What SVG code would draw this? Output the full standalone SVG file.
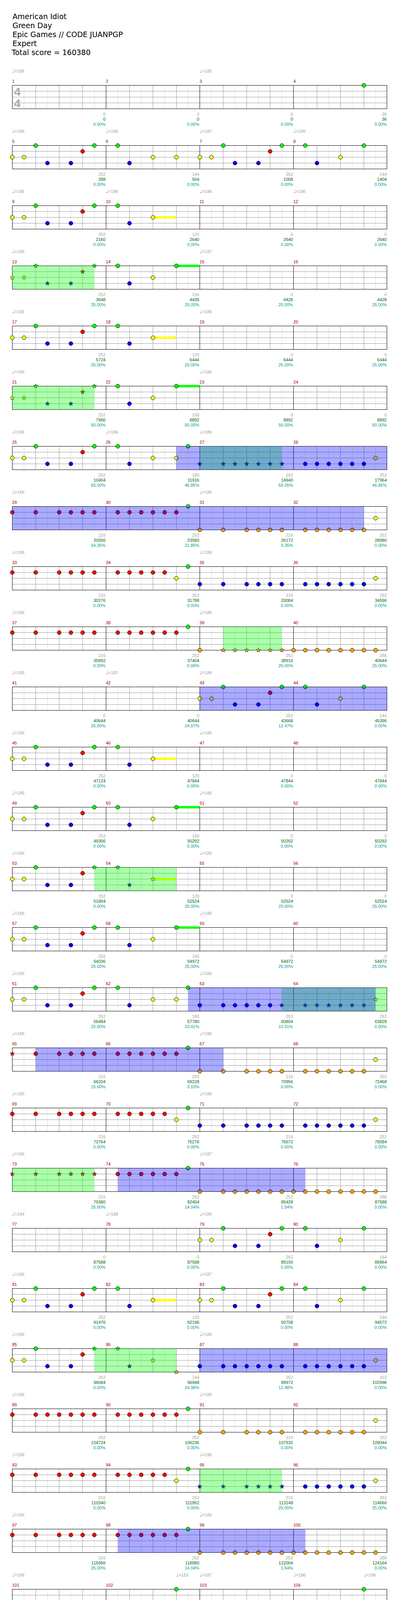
<svg xmlns="http://www.w3.org/2000/svg" xmlns:xlink="http://www.w3.org/1999/xlink" width="1024" height="5454" viewBox="0 0 1024 5454">
<style>
text{font-family:'Liberation Sans',Arial,'DejaVu Sans',sans-serif;font-size:11px}
.h{font-family:'DejaVu Sans',sans-serif;font-size:19px;fill:#000}
.m{fill:#990000}
.p{fill:#a0a0a0}
.q{font-family:'DejaVu Sans',sans-serif;font-size:14px}
.a{fill:#a0a0a0;text-anchor:end}
.b{fill:#006400;text-anchor:end}
.c{fill:#009999;text-anchor:end}
.ts{font-family:'Liberation Sans',Arial,sans-serif;font-size:30px;font-weight:bold;fill:#aaaaaa}
.og{fill:#00ff00;fill-opacity:.333}
.ob{fill:#0000ff;fill-opacity:.333}
</style>
<defs>
<g id="staff">
<path d="M61.5 0V60M121.5 0V60M181.5 0V60M241.5 0V60M301.5 0V60M361.5 0V60M421.5 0V60M481.5 0V60M541.5 0V60M601.5 0V60M661.5 0V60M721.5 0V60M781.5 0V60M841.5 0V60M901.5 0V60M961.5 0V60" stroke="#dddddd" fill="none"/>
<path d="M31.5 15H990.5M31.5 30H990.5M31.5 45H990.5M91.5 0V60M151.5 0V60M211.5 0V60M331.5 0V60M391.5 0V60M451.5 0V60M571.5 0V60M631.5 0V60M691.5 0V60M811.5 0V60M871.5 0V60M931.5 0V60" stroke="#999999" fill="none"/>
<path d="M271.5 0V60M511.5 0V60M751.5 0V60" stroke="#000" fill="none"/>
<rect x="31.5" y="0" width="959" height="60" fill="none" stroke="#000"/>
</g>
<circle id="n" r="5" stroke="#000" stroke-width="1"/>
<path id="s" d="M0,-5.8L1.53,-2.1L5.52,-1.79L2.47,0.8L3.41,4.69L0,2.6L-3.41,4.69L-2.47,0.8L-5.52,-1.79L-1.53,-2.1Z" stroke="#000" stroke-width="0.8"/>
<g id="pA6"><use href="#n" x="0" y="30" fill="#ffff00"/><use href="#n" x="30" y="30" fill="#ffff00"/><use href="#n" x="60" y="0" fill="#00ff00"/><use href="#n" x="90" y="45" fill="#0000ff"/><use href="#n" x="150" y="45" fill="#0000ff"/><use href="#n" x="180" y="15" fill="#ff0000"/></g>
<g id="pA"><use href="#pA6"/><use href="#n" x="210" y="0" fill="#00ff00"/></g>
<g id="pAs"><use href="#s" x="0" y="30" fill="#ffff00"/><use href="#s" x="30" y="30" fill="#ffff00"/><use href="#s" x="60" y="0" fill="#00ff00"/><use href="#s" x="90" y="45" fill="#0000ff"/><use href="#s" x="150" y="45" fill="#0000ff"/><use href="#s" x="180" y="15" fill="#ff0000"/><use href="#s" x="210" y="0" fill="#00ff00"/></g>
<g id="pB"><use href="#n" x="30" y="0" fill="#00ff00"/><use href="#n" x="60" y="45" fill="#0000ff"/><use href="#n" x="120" y="30" fill="#ffff00"/></g>
<g id="pB1"><use href="#pB"/><use href="#n" x="180" y="30" fill="#ffff00"/></g>
<g id="pB2"><use href="#pB"/><use href="#n" x="180" y="0" fill="#00ff00"/></g>
<g id="pB3"><rect x="120" y="27" width="60" height="6" fill="#ffff00"/><use href="#pB"/></g>
<g id="pB4"><rect x="180" y="-3" width="60" height="6" fill="#00ff00"/><use href="#pB"/><use href="#n" x="180" y="0" fill="#00ff00"/></g>
<g id="r0245"><use href="#n"/><use href="#n" x="60"/><use href="#n" x="120"/><use href="#n" x="150"/><use href="#n" x="180"/><use href="#n" x="210"/></g>
<g id="r16"><use href="#n" x="30"/><use href="#n" x="60"/><use href="#n" x="90"/><use href="#n" x="120"/><use href="#n" x="150"/><use href="#n" x="180"/></g>
<g id="r15"><use href="#n" x="30"/><use href="#n" x="60"/><use href="#n" x="90"/><use href="#n" x="120"/><use href="#n" x="150"/></g>
<g id="r0234567"><use href="#n"/><use href="#n" x="60"/><use href="#n" x="90"/><use href="#n" x="120"/><use href="#n" x="150"/><use href="#n" x="180"/><use href="#n" x="210"/></g>
<g id="r07"><use href="#n"/><use href="#n" x="30"/><use href="#n" x="60"/><use href="#n" x="90"/><use href="#n" x="120"/><use href="#n" x="150"/><use href="#n" x="180"/><use href="#n" x="210"/></g>
<g id="s0245"><use href="#s"/><use href="#s" x="60"/><use href="#s" x="120"/><use href="#s" x="150"/><use href="#s" x="180"/><use href="#s" x="210"/></g>
<g id="s16"><use href="#s" x="30"/><use href="#s" x="60"/><use href="#s" x="90"/><use href="#s" x="120"/><use href="#s" x="150"/><use href="#s" x="180"/></g>
<g id="s234567"><use href="#s" x="60"/><use href="#s" x="90"/><use href="#s" x="120"/><use href="#s" x="150"/><use href="#s" x="180"/><use href="#s" x="210"/></g>
<g id="s0234567"><use href="#s"/><use href="#s" x="60"/><use href="#s" x="90"/><use href="#s" x="120"/><use href="#s" x="150"/><use href="#s" x="180"/><use href="#s" x="210"/></g>
</defs>
<rect width="1024" height="5454" fill="#ffffff"/>
<g id="header">
<text class="h" x="32" y="49">American Idiot</text>
<text class="h" x="32" y="72">Green Day</text>
<text class="h" x="32" y="95">Epic Games // CODE JUANPGP</text>
<text class="h" x="32" y="118">Expert</text>
<text class="h" x="30" y="141">Total score = 160380</text>
</g>

<g id="row1" transform="translate(0,218.5)">
<use href="#staff"/>
<text class="ts" x="36" y="26.5">4</text><text class="ts" x="36" y="56.5">4</text>
<use href="#n" x="931.5" y="0" fill="#00ff00"/>
<text class="p" x="31" y="-33"><tspan class="q">♩</tspan>=185</text><text class="p" x="511" y="-33"><tspan class="q">♩</tspan>=185</text>
<text class="m" x="31" y="-7">1</text><text class="m" x="271" y="-7">2</text><text class="m" x="511" y="-7">3</text><text class="m" x="751" y="-7">4</text>
<text class="a" x="270" y="77">0</text><text class="b" x="270" y="90">0</text><text class="c" x="270" y="103">0.00%</text>
<text class="a" x="510" y="77">0</text><text class="b" x="510" y="90">0</text><text class="c" x="510" y="103">0.00%</text>
<text class="a" x="750" y="77">0</text><text class="b" x="750" y="90">0</text><text class="c" x="750" y="103">0.00%</text>
<text class="a" x="990" y="77">36</text><text class="b" x="990" y="90">36</text><text class="c" x="990" y="103">0.00%</text>
</g>

<g id="row2" transform="translate(0,372.5)">
<use href="#staff"/>
<use href="#pA" x="31.5"/><use href="#pB1" x="271.5"/><use href="#pA" x="511.5"/><use href="#pB2" x="751.5"/>
<text class="p" x="31" y="-33"><tspan class="q">♩</tspan>=186</text><text class="p" x="271" y="-33"><tspan class="q">♩</tspan>=186</text><text class="p" x="511" y="-33"><tspan class="q">♩</tspan>=187</text><text class="p" x="751" y="-33"><tspan class="q">♩</tspan>=185</text>
<text class="m" x="31" y="-7">5</text><text class="m" x="271" y="-7">6</text><text class="m" x="511" y="-7">7</text><text class="m" x="751" y="-7">8</text>
<text class="a" x="270" y="77">252</text><text class="b" x="270" y="90">288</text><text class="c" x="270" y="103">0.00%</text>
<text class="a" x="510" y="77">144</text><text class="b" x="510" y="90">504</text><text class="c" x="510" y="103">0.00%</text>
<text class="a" x="750" y="77">252</text><text class="b" x="750" y="90">1008</text><text class="c" x="750" y="103">0.00%</text>
<text class="a" x="990" y="77">144</text><text class="b" x="990" y="90">1404</text><text class="c" x="990" y="103">0.00%</text>
</g>

<g id="row3" transform="translate(0,526.5)">
<use href="#staff"/>
<use href="#pA" x="31.5"/><use href="#pB3" x="271.5"/>
<text class="p" x="31" y="-33"><tspan class="q">♩</tspan>=186</text><text class="p" x="271" y="-33"><tspan class="q">♩</tspan>=186</text><text class="p" x="511" y="-33"><tspan class="q">♩</tspan>=186</text><text class="p" x="751" y="-33"><tspan class="q">♩</tspan>=186</text>
<text class="m" x="31" y="-7">9</text><text class="m" x="271" y="-7">10</text><text class="m" x="511" y="-7">11</text><text class="m" x="751" y="-7">12</text>
<text class="a" x="270" y="77">252</text><text class="b" x="270" y="90">2160</text><text class="c" x="270" y="103">0.00%</text>
<text class="a" x="510" y="77">120</text><text class="b" x="510" y="90">2640</text><text class="c" x="510" y="103">0.00%</text>
<text class="a" x="750" y="77">0</text><text class="b" x="750" y="90">2640</text><text class="c" x="750" y="103">0.00%</text>
<text class="a" x="990" y="77">0</text><text class="b" x="990" y="90">2640</text><text class="c" x="990" y="103">0.00%</text>
</g>

<g id="row4" transform="translate(0,680.5)">
<use href="#staff"/>
<use href="#pAs" x="31.5"/><use href="#pB4" x="271.5"/>
<rect class="og" x="31.5" y="0" width="210" height="60"/>
<text class="p" x="31" y="-33"><tspan class="q">♩</tspan>=186</text><text class="p" x="511" y="-33"><tspan class="q">♩</tspan>=187</text>
<text class="m" x="31" y="-7">13</text><text class="m" x="271" y="-7">14</text><text class="m" x="511" y="-7">15</text><text class="m" x="751" y="-7">16</text>
<text class="a" x="270" y="77">252</text><text class="b" x="270" y="90">3648</text><text class="c" x="270" y="103">25.00%</text>
<text class="a" x="510" y="77">156</text><text class="b" x="510" y="90">4428</text><text class="c" x="510" y="103">25.00%</text>
<text class="a" x="750" y="77">0</text><text class="b" x="750" y="90">4428</text><text class="c" x="750" y="103">25.00%</text>
<text class="a" x="990" y="77">0</text><text class="b" x="990" y="90">4428</text><text class="c" x="990" y="103">25.00%</text>
</g>

<g id="row5" transform="translate(0,834.5)">
<use href="#staff"/>
<use href="#pA" x="31.5"/><use href="#pB3" x="271.5"/>
<text class="p" x="31" y="-33"><tspan class="q">♩</tspan>=185</text><text class="p" x="511" y="-33"><tspan class="q">♩</tspan>=186</text>
<text class="m" x="31" y="-7">17</text><text class="m" x="271" y="-7">18</text><text class="m" x="511" y="-7">19</text><text class="m" x="751" y="-7">20</text>
<text class="a" x="270" y="77">252</text><text class="b" x="270" y="90">5724</text><text class="c" x="270" y="103">25.00%</text>
<text class="a" x="510" y="77">120</text><text class="b" x="510" y="90">6444</text><text class="c" x="510" y="103">25.00%</text>
<text class="a" x="750" y="77">0</text><text class="b" x="750" y="90">6444</text><text class="c" x="750" y="103">25.00%</text>
<text class="a" x="990" y="77">0</text><text class="b" x="990" y="90">6444</text><text class="c" x="990" y="103">25.00%</text>
</g>

<g id="row6" transform="translate(0,988.5)">
<use href="#staff"/>
<use href="#pAs" x="31.5"/><use href="#pB4" x="271.5"/>
<rect class="og" x="31.5" y="0" width="210" height="60"/>
<text class="p" x="31" y="-33"><tspan class="q">♩</tspan>=186</text><text class="p" x="511" y="-33"><tspan class="q">♩</tspan>=186</text>
<text class="m" x="31" y="-7">21</text><text class="m" x="271" y="-7">22</text><text class="m" x="511" y="-7">23</text><text class="m" x="751" y="-7">24</text>
<text class="a" x="270" y="77">252</text><text class="b" x="270" y="90">7956</text><text class="c" x="270" y="103">50.00%</text>
<text class="a" x="510" y="77">156</text><text class="b" x="510" y="90">8892</text><text class="c" x="510" y="103">50.00%</text>
<text class="a" x="750" y="77">0</text><text class="b" x="750" y="90">8892</text><text class="c" x="750" y="103">50.00%</text>
<text class="a" x="990" y="77">0</text><text class="b" x="990" y="90">8892</text><text class="c" x="990" y="103">50.00%</text>
</g>

<g id="row7" transform="translate(0,1142.5)">
<use href="#staff"/>
<use href="#pA" x="31.5"/><use href="#pB1" x="271.5"/><use href="#n" x="481.5" y="0" fill="#00ff00"/>
<use href="#s0234567" x="511.5" y="45" fill="#0000ff"/>
<use href="#r16" x="751.5" y="45" fill="#0000ff"/><use href="#n" x="961.5" y="30" fill="#ffff00"/>
<rect class="og" x="511.5" y="0" width="210" height="60"/>
<rect class="ob" x="451.5" y="0" width="539" height="60"/>
<text class="p" x="31" y="-33"><tspan class="q">♩</tspan>=186</text><text class="p" x="271" y="-33"><tspan class="q">♩</tspan>=186</text><text class="p" x="511" y="-33"><tspan class="q">♩</tspan>=186</text>
<text class="m" x="31" y="-7">25</text><text class="m" x="271" y="-7">26</text><text class="m" x="511" y="-7">27</text><text class="m" x="751" y="-7">28</text>
<text class="a" x="270" y="77">252</text><text class="b" x="270" y="90">10404</text><text class="c" x="270" y="103">50.00%</text>
<text class="a" x="510" y="77">180</text><text class="b" x="510" y="90">11916</text><text class="c" x="510" y="103">46.85%</text>
<text class="a" x="750" y="77">252</text><text class="b" x="750" y="90">14940</text><text class="c" x="750" y="103">59.35%</text>
<text class="a" x="990" y="77">252</text><text class="b" x="990" y="90">17964</text><text class="c" x="990" y="103">46.85%</text>
</g>

<g id="row8" transform="translate(0,1296.5)">
<use href="#staff"/>
<use href="#r0245" x="31.5" y="15" fill="#ff0000"/><use href="#r16" x="271.5" y="15" fill="#ff0000"/><use href="#n" x="481.5" y="0" fill="#00ff00"/>
<use href="#r0245" x="511.5" y="60" fill="#ffa500"/><use href="#r16" x="751.5" y="60" fill="#ffa500"/><use href="#n" x="961.5" y="30" fill="#ffff00"/>
<rect class="ob" x="31.5" y="0" width="900" height="60"/>
<text class="p" x="31" y="-33"><tspan class="q">♩</tspan>=186</text><text class="p" x="511" y="-33"><tspan class="q">♩</tspan>=186</text>
<text class="m" x="31" y="-7">29</text><text class="m" x="271" y="-7">30</text><text class="m" x="511" y="-7">31</text><text class="m" x="751" y="-7">32</text>
<text class="a" x="270" y="77">216</text><text class="b" x="270" y="90">20556</text><text class="c" x="270" y="103">34.35%</text>
<text class="a" x="510" y="77">252</text><text class="b" x="510" y="90">23580</text><text class="c" x="510" y="103">21.85%</text>
<text class="a" x="750" y="77">216</text><text class="b" x="750" y="90">26172</text><text class="c" x="750" y="103">9.35%</text>
<text class="a" x="990" y="77">252</text><text class="b" x="990" y="90">28980</text><text class="c" x="990" y="103">0.00%</text>
</g>

<g id="row9" transform="translate(0,1450.5)">
<use href="#staff"/>
<use href="#r0245" x="31.5" y="15" fill="#ff0000"/><use href="#r15" x="271.5" y="15" fill="#ff0000"/><use href="#n" x="451.5" y="30" fill="#ffff00"/><use href="#n" x="481.5" y="0" fill="#00ff00"/>
<use href="#r0245" x="511.5" y="45" fill="#0000ff"/><use href="#r16" x="751.5" y="45" fill="#0000ff"/><use href="#n" x="961.5" y="30" fill="#ffff00"/>
<text class="p" x="31" y="-33"><tspan class="q">♩</tspan>=186</text><text class="p" x="511" y="-33"><tspan class="q">♩</tspan>=186</text>
<text class="m" x="31" y="-7">33</text><text class="m" x="271" y="-7">34</text><text class="m" x="511" y="-7">35</text><text class="m" x="751" y="-7">36</text>
<text class="a" x="270" y="77">216</text><text class="b" x="270" y="90">30276</text><text class="c" x="270" y="103">0.00%</text>
<text class="a" x="510" y="77">252</text><text class="b" x="510" y="90">31788</text><text class="c" x="510" y="103">0.00%</text>
<text class="a" x="750" y="77">216</text><text class="b" x="750" y="90">33084</text><text class="c" x="750" y="103">0.00%</text>
<text class="a" x="990" y="77">252</text><text class="b" x="990" y="90">34596</text><text class="c" x="990" y="103">0.00%</text>
</g>

<g id="row10" transform="translate(0,1604.5)">
<use href="#staff"/>
<use href="#r0245" x="31.5" y="15" fill="#ff0000"/><use href="#r16" x="271.5" y="15" fill="#ff0000"/><use href="#n" x="481.5" y="0" fill="#00ff00"/>
<use href="#n" x="511.5" y="60" fill="#ffa500"/><use href="#s234567" x="511.5" y="60" fill="#ffa500"/><use href="#r07" x="751.5" y="60" fill="#ffa500"/>
<rect class="og" x="571.5" y="0" width="150" height="60"/>
<text class="p" x="31" y="-33"><tspan class="q">♩</tspan>=186</text><text class="p" x="511" y="-33"><tspan class="q">♩</tspan>=186</text>
<text class="m" x="31" y="-7">37</text><text class="m" x="271" y="-7">38</text><text class="m" x="511" y="-7">39</text><text class="m" x="751" y="-7">40</text>
<text class="a" x="270" y="77">216</text><text class="b" x="270" y="90">35892</text><text class="c" x="270" y="103">0.00%</text>
<text class="a" x="510" y="77">252</text><text class="b" x="510" y="90">37404</text><text class="c" x="510" y="103">0.00%</text>
<text class="a" x="750" y="77">252</text><text class="b" x="750" y="90">38916</text><text class="c" x="750" y="103">25.00%</text>
<text class="a" x="990" y="77">288</text><text class="b" x="990" y="90">40644</text><text class="c" x="990" y="103">25.00%</text>
</g>

<g id="row11" transform="translate(0,1758.5)">
<use href="#staff"/>
<use href="#pA" x="511.5"/><use href="#pB2" x="751.5"/>
<rect class="ob" x="511.5" y="0" width="479" height="60"/>
<text class="p" x="31" y="-33"><tspan class="q">♩</tspan>=185</text><text class="p" x="271" y="-33"><tspan class="q">♩</tspan>=187</text><text class="p" x="511" y="-33"><tspan class="q">♩</tspan>=186</text>
<text class="m" x="31" y="-7">41</text><text class="m" x="271" y="-7">42</text><text class="m" x="511" y="-7">43</text><text class="m" x="751" y="-7">44</text>
<text class="a" x="270" y="77">0</text><text class="b" x="270" y="90">40644</text><text class="c" x="270" y="103">25.00%</text>
<text class="a" x="510" y="77">0</text><text class="b" x="510" y="90">40644</text><text class="c" x="510" y="103">24.97%</text>
<text class="a" x="750" y="77">252</text><text class="b" x="750" y="90">43668</text><text class="c" x="750" y="103">12.47%</text>
<text class="a" x="990" y="77">144</text><text class="b" x="990" y="90">45396</text><text class="c" x="990" y="103">0.00%</text>
</g>

<g id="row12" transform="translate(0,1912.5)">
<use href="#staff"/>
<use href="#pA" x="31.5"/><use href="#pB3" x="271.5"/>
<text class="p" x="31" y="-33"><tspan class="q">♩</tspan>=186</text><text class="p" x="511" y="-33"><tspan class="q">♩</tspan>=186</text>
<text class="m" x="31" y="-7">45</text><text class="m" x="271" y="-7">46</text><text class="m" x="511" y="-7">47</text><text class="m" x="751" y="-7">48</text>
<text class="a" x="270" y="77">252</text><text class="b" x="270" y="90">47124</text><text class="c" x="270" y="103">0.00%</text>
<text class="a" x="510" y="77">120</text><text class="b" x="510" y="90">47844</text><text class="c" x="510" y="103">0.00%</text>
<text class="a" x="750" y="77">0</text><text class="b" x="750" y="90">47844</text><text class="c" x="750" y="103">0.00%</text>
<text class="a" x="990" y="77">0</text><text class="b" x="990" y="90">47844</text><text class="c" x="990" y="103">0.00%</text>
</g>

<g id="row13" transform="translate(0,2066.5)">
<use href="#staff"/>
<use href="#pA" x="31.5"/><use href="#pB4" x="271.5"/>
<text class="p" x="31" y="-33"><tspan class="q">♩</tspan>=186</text><text class="p" x="511" y="-33"><tspan class="q">♩</tspan>=186</text>
<text class="m" x="31" y="-7">49</text><text class="m" x="271" y="-7">50</text><text class="m" x="511" y="-7">51</text><text class="m" x="751" y="-7">52</text>
<text class="a" x="270" y="77">252</text><text class="b" x="270" y="90">49356</text><text class="c" x="270" y="103">0.00%</text>
<text class="a" x="510" y="77">156</text><text class="b" x="510" y="90">50292</text><text class="c" x="510" y="103">0.00%</text>
<text class="a" x="750" y="77">0</text><text class="b" x="750" y="90">50292</text><text class="c" x="750" y="103">0.00%</text>
<text class="a" x="990" y="77">0</text><text class="b" x="990" y="90">50292</text><text class="c" x="990" y="103">0.00%</text>
</g>

<g id="row14" transform="translate(0,2220.5)">
<use href="#staff"/>
<use href="#pA6" x="31.5"/><use href="#s" x="241.5" y="0" fill="#00ff00"/>
<rect x="391.5" y="27" width="60" height="6" fill="#ffff00"/>
<use href="#s" x="301.5" y="0" fill="#00ff00"/><use href="#s" x="331.5" y="45" fill="#0000ff"/><use href="#s" x="391.5" y="30" fill="#ffff00"/>
<rect class="og" x="241.5" y="0" width="210" height="60"/>
<text class="p" x="31" y="-33"><tspan class="q">♩</tspan>=186</text><text class="p" x="511" y="-33"><tspan class="q">♩</tspan>=186</text>
<text class="m" x="31" y="-7">53</text><text class="m" x="271" y="-7">54</text><text class="m" x="511" y="-7">55</text><text class="m" x="751" y="-7">56</text>
<text class="a" x="270" y="77">252</text><text class="b" x="270" y="90">51804</text><text class="c" x="270" y="103">0.00%</text>
<text class="a" x="510" y="77">120</text><text class="b" x="510" y="90">52524</text><text class="c" x="510" y="103">25.00%</text>
<text class="a" x="750" y="77">0</text><text class="b" x="750" y="90">52524</text><text class="c" x="750" y="103">25.00%</text>
<text class="a" x="990" y="77">0</text><text class="b" x="990" y="90">52524</text><text class="c" x="990" y="103">25.00%</text>
</g>

<g id="row15" transform="translate(0,2374.5)">
<use href="#staff"/>
<use href="#pA" x="31.5"/><use href="#pB4" x="271.5"/>
<text class="p" x="31" y="-33"><tspan class="q">♩</tspan>=186</text><text class="p" x="511" y="-33"><tspan class="q">♩</tspan>=186</text>
<text class="m" x="31" y="-7">57</text><text class="m" x="271" y="-7">58</text><text class="m" x="511" y="-7">59</text><text class="m" x="751" y="-7">60</text>
<text class="a" x="270" y="77">252</text><text class="b" x="270" y="90">54036</text><text class="c" x="270" y="103">25.00%</text>
<text class="a" x="510" y="77">156</text><text class="b" x="510" y="90">54972</text><text class="c" x="510" y="103">25.00%</text>
<text class="a" x="750" y="77">0</text><text class="b" x="750" y="90">54972</text><text class="c" x="750" y="103">25.00%</text>
<text class="a" x="990" y="77">0</text><text class="b" x="990" y="90">54972</text><text class="c" x="990" y="103">25.00%</text>
</g>

<g id="row16" transform="translate(0,2528.5)">
<use href="#staff"/>
<use href="#pA" x="31.5"/><use href="#pB1" x="271.5"/><use href="#n" x="481.5" y="0" fill="#00ff00"/>
<g fill="#0000ff"><use href="#n" x="511.5" y="45"/><use href="#n" x="571.5" y="45"/><use href="#n" x="601.5" y="45"/><use href="#n" x="631.5" y="45"/><use href="#n" x="661.5" y="45"/><use href="#n" x="691.5" y="45"/><use href="#s" x="721.5" y="45"/><use href="#s16" x="751.5" y="45"/></g>
<use href="#s" x="961.5" y="30" fill="#ffff00"/>
<rect class="og" x="721.5" y="0" width="269" height="60"/>
<rect class="ob" x="481.5" y="0" width="480" height="60"/>
<text class="p" x="31" y="-33"><tspan class="q">♩</tspan>=186</text><text class="p" x="511" y="-33"><tspan class="q">♩</tspan>=186</text>
<text class="m" x="31" y="-7">61</text><text class="m" x="271" y="-7">62</text><text class="m" x="511" y="-7">63</text><text class="m" x="751" y="-7">64</text>
<text class="a" x="270" y="77">252</text><text class="b" x="270" y="90">56484</text><text class="c" x="270" y="103">25.00%</text>
<text class="a" x="510" y="77">180</text><text class="b" x="510" y="90">57780</text><text class="c" x="510" y="103">23.41%</text>
<text class="a" x="750" y="77">252</text><text class="b" x="750" y="90">60804</text><text class="c" x="750" y="103">10.91%</text>
<text class="a" x="990" y="77">252</text><text class="b" x="990" y="90">63828</text><text class="c" x="990" y="103">0.00%</text>
</g>

<g id="row17" transform="translate(0,2682.5)">
<use href="#staff"/>
<g fill="#ff0000"><use href="#s" x="31.5" y="15"/><use href="#n" x="91.5" y="15"/><use href="#n" x="151.5" y="15"/><use href="#n" x="181.5" y="15"/><use href="#n" x="211.5" y="15"/><use href="#n" x="241.5" y="15"/><use href="#r16" x="271.5" y="15"/></g>
<use href="#n" x="481.5" y="0" fill="#00ff00"/>
<use href="#r0245" x="511.5" y="60" fill="#ffa500"/><use href="#r16" x="751.5" y="60" fill="#ffa500"/><use href="#n" x="961.5" y="30" fill="#ffff00"/>
<rect class="ob" x="91.5" y="0" width="480" height="60"/>
<text class="p" x="31" y="-33"><tspan class="q">♩</tspan>=186</text><text class="p" x="511" y="-33"><tspan class="q">♩</tspan>=186</text>
<text class="m" x="31" y="-7">65</text><text class="m" x="271" y="-7">66</text><text class="m" x="511" y="-7">67</text><text class="m" x="751" y="-7">68</text>
<text class="a" x="270" y="77">216</text><text class="b" x="270" y="90">66204</text><text class="c" x="270" y="103">15.60%</text>
<text class="a" x="510" y="77">252</text><text class="b" x="510" y="90">69228</text><text class="c" x="510" y="103">3.10%</text>
<text class="a" x="750" y="77">216</text><text class="b" x="750" y="90">70956</text><text class="c" x="750" y="103">0.00%</text>
<text class="a" x="990" y="77">252</text><text class="b" x="990" y="90">72468</text><text class="c" x="990" y="103">0.00%</text>
</g>

<g id="row18" transform="translate(0,2836.5)">
<use href="#staff"/>
<use href="#r0245" x="31.5" y="15" fill="#ff0000"/><use href="#r15" x="271.5" y="15" fill="#ff0000"/><use href="#n" x="451.5" y="30" fill="#ffff00"/><use href="#n" x="481.5" y="0" fill="#00ff00"/>
<use href="#r0245" x="511.5" y="45" fill="#0000ff"/><use href="#r16" x="751.5" y="45" fill="#0000ff"/><use href="#n" x="961.5" y="30" fill="#ffff00"/>
<text class="p" x="31" y="-33"><tspan class="q">♩</tspan>=186</text><text class="p" x="511" y="-33"><tspan class="q">♩</tspan>=186</text>
<text class="m" x="31" y="-7">69</text><text class="m" x="271" y="-7">70</text><text class="m" x="511" y="-7">71</text><text class="m" x="751" y="-7">72</text>
<text class="a" x="270" y="77">216</text><text class="b" x="270" y="90">73764</text><text class="c" x="270" y="103">0.00%</text>
<text class="a" x="510" y="77">252</text><text class="b" x="510" y="90">75276</text><text class="c" x="510" y="103">0.00%</text>
<text class="a" x="750" y="77">216</text><text class="b" x="750" y="90">76572</text><text class="c" x="750" y="103">0.00%</text>
<text class="a" x="990" y="77">252</text><text class="b" x="990" y="90">78084</text><text class="c" x="990" y="103">0.00%</text>
</g>

<g id="row19" transform="translate(0,2990.5)">
<use href="#staff"/>
<use href="#s0245" x="31.5" y="15" fill="#ff0000"/><use href="#r16" x="271.5" y="15" fill="#ff0000"/><use href="#n" x="481.5" y="0" fill="#00ff00"/>
<use href="#r0234567" x="511.5" y="60" fill="#ffa500"/><use href="#r07" x="751.5" y="60" fill="#ffa500"/>
<rect class="og" x="31.5" y="0" width="210" height="60"/>
<rect class="ob" x="301.5" y="0" width="480" height="60"/>
<text class="p" x="31" y="-33"><tspan class="q">♩</tspan>=186</text><text class="p" x="511" y="-33"><tspan class="q">♩</tspan>=187</text>
<text class="m" x="31" y="-7">73</text><text class="m" x="271" y="-7">74</text><text class="m" x="511" y="-7">75</text><text class="m" x="751" y="-7">76</text>
<text class="a" x="270" y="77">216</text><text class="b" x="270" y="90">79380</text><text class="c" x="270" y="103">25.00%</text>
<text class="a" x="510" y="77">252</text><text class="b" x="510" y="90">82404</text><text class="c" x="510" y="103">14.04%</text>
<text class="a" x="750" y="77">252</text><text class="b" x="750" y="90">85428</text><text class="c" x="750" y="103">1.54%</text>
<text class="a" x="990" y="77">288</text><text class="b" x="990" y="90">87588</text><text class="c" x="990" y="103">0.00%</text>
</g>

<g id="row20" transform="translate(0,3144.5)">
<use href="#staff"/>
<use href="#pA" x="511.5"/><use href="#pB2" x="751.5"/>
<text class="p" x="31" y="-33"><tspan class="q">♩</tspan>=184</text><text class="p" x="271" y="-33"><tspan class="q">♩</tspan>=188</text><text class="p" x="511" y="-33"><tspan class="q">♩</tspan>=185</text>
<text class="m" x="31" y="-7">77</text><text class="m" x="271" y="-7">78</text><text class="m" x="511" y="-7">79</text><text class="m" x="751" y="-7">80</text>
<text class="a" x="270" y="77">0</text><text class="b" x="270" y="90">87588</text><text class="c" x="270" y="103">0.00%</text>
<text class="a" x="510" y="77">0</text><text class="b" x="510" y="90">87588</text><text class="c" x="510" y="103">0.00%</text>
<text class="a" x="750" y="77">252</text><text class="b" x="750" y="90">89100</text><text class="c" x="750" y="103">0.00%</text>
<text class="a" x="990" y="77">144</text><text class="b" x="990" y="90">89964</text><text class="c" x="990" y="103">0.00%</text>
</g>

<g id="row21" transform="translate(0,3298.5)">
<use href="#staff"/>
<use href="#pA" x="31.5"/><use href="#pB3" x="271.5"/><use href="#pA" x="511.5"/><use href="#pB2" x="751.5"/>
<text class="p" x="31" y="-33"><tspan class="q">♩</tspan>=186</text><text class="p" x="511" y="-33"><tspan class="q">♩</tspan>=187</text>
<text class="m" x="31" y="-7">81</text><text class="m" x="271" y="-7">82</text><text class="m" x="511" y="-7">83</text><text class="m" x="751" y="-7">84</text>
<text class="a" x="270" y="77">252</text><text class="b" x="270" y="90">91476</text><text class="c" x="270" y="103">0.00%</text>
<text class="a" x="510" y="77">120</text><text class="b" x="510" y="90">92196</text><text class="c" x="510" y="103">0.00%</text>
<text class="a" x="750" y="77">252</text><text class="b" x="750" y="90">93708</text><text class="c" x="750" y="103">0.00%</text>
<text class="a" x="990" y="77">144</text><text class="b" x="990" y="90">94572</text><text class="c" x="990" y="103">0.00%</text>
</g>

<g id="row22" transform="translate(0,3452.5)">
<use href="#staff"/>
<use href="#pA6" x="31.5"/><use href="#s" x="241.5" y="0" fill="#00ff00"/>
<use href="#s" x="301.5" y="0" fill="#00ff00"/><use href="#s" x="331.5" y="45" fill="#0000ff"/><use href="#s" x="391.5" y="30" fill="#ffff00"/><use href="#s" x="451.5" y="60" fill="#ffa500"/>
<use href="#r0234567" x="511.5" y="45" fill="#0000ff"/><use href="#r16" x="751.5" y="45" fill="#0000ff"/><use href="#n" x="961.5" y="30" fill="#ffff00"/>
<rect class="og" x="241.5" y="0" width="210" height="60"/>
<rect class="ob" x="511.5" y="0" width="479" height="60"/>
<text class="p" x="31" y="-33"><tspan class="q">♩</tspan>=186</text><text class="p" x="511" y="-33"><tspan class="q">♩</tspan>=186</text>
<text class="m" x="31" y="-7">85</text><text class="m" x="271" y="-7">86</text><text class="m" x="511" y="-7">87</text><text class="m" x="751" y="-7">88</text>
<text class="a" x="270" y="77">252</text><text class="b" x="270" y="90">96084</text><text class="c" x="270" y="103">0.00%</text>
<text class="a" x="510" y="77">144</text><text class="b" x="510" y="90">96948</text><text class="c" x="510" y="103">24.98%</text>
<text class="a" x="750" y="77">252</text><text class="b" x="750" y="90">99972</text><text class="c" x="750" y="103">12.48%</text>
<text class="a" x="990" y="77">252</text><text class="b" x="990" y="90">102996</text><text class="c" x="990" y="103">0.00%</text>
</g>

<g id="row23" transform="translate(0,3606.5)">
<use href="#staff"/>
<use href="#r0234567" x="31.5" y="15" fill="#ff0000"/><use href="#r16" x="271.5" y="15" fill="#ff0000"/><use href="#n" x="481.5" y="0" fill="#00ff00"/>
<use href="#r0245" x="511.5" y="60" fill="#ffa500"/><use href="#r16" x="751.5" y="60" fill="#ffa500"/><use href="#n" x="961.5" y="30" fill="#ffff00"/>
<text class="p" x="31" y="-33"><tspan class="q">♩</tspan>=186</text><text class="p" x="511" y="-33"><tspan class="q">♩</tspan>=186</text>
<text class="m" x="31" y="-7">89</text><text class="m" x="271" y="-7">90</text><text class="m" x="511" y="-7">91</text><text class="m" x="751" y="-7">92</text>
<text class="a" x="270" y="77">252</text><text class="b" x="270" y="90">104724</text><text class="c" x="270" y="103">0.00%</text>
<text class="a" x="510" y="77">252</text><text class="b" x="510" y="90">106236</text><text class="c" x="510" y="103">0.00%</text>
<text class="a" x="750" y="77">216</text><text class="b" x="750" y="90">107532</text><text class="c" x="750" y="103">0.00%</text>
<text class="a" x="990" y="77">252</text><text class="b" x="990" y="90">109044</text><text class="c" x="990" y="103">0.00%</text>
</g>

<g id="row24" transform="translate(0,3760.5)">
<use href="#staff"/>
<use href="#r0245" x="31.5" y="15" fill="#ff0000"/><use href="#r15" x="271.5" y="15" fill="#ff0000"/><use href="#n" x="451.5" y="30" fill="#ffff00"/><use href="#n" x="481.5" y="0" fill="#00ff00"/>
<use href="#s0245" x="511.5" y="45" fill="#0000ff"/><use href="#r16" x="751.5" y="45" fill="#0000ff"/><use href="#n" x="961.5" y="30" fill="#ffff00"/>
<rect class="og" x="511.5" y="0" width="210" height="60"/>
<text class="p" x="31" y="-33"><tspan class="q">♩</tspan>=186</text><text class="p" x="511" y="-33"><tspan class="q">♩</tspan>=186</text>
<text class="m" x="31" y="-7">93</text><text class="m" x="271" y="-7">94</text><text class="m" x="511" y="-7">95</text><text class="m" x="751" y="-7">96</text>
<text class="a" x="270" y="77">216</text><text class="b" x="270" y="90">110340</text><text class="c" x="270" y="103">0.00%</text>
<text class="a" x="510" y="77">252</text><text class="b" x="510" y="90">111852</text><text class="c" x="510" y="103">0.00%</text>
<text class="a" x="750" y="77">216</text><text class="b" x="750" y="90">113148</text><text class="c" x="750" y="103">25.00%</text>
<text class="a" x="990" y="77">252</text><text class="b" x="990" y="90">114660</text><text class="c" x="990" y="103">25.00%</text>
</g>

<g id="row25" transform="translate(0,3914.5)">
<use href="#staff"/>
<use href="#r0245" x="31.5" y="15" fill="#ff0000"/><use href="#r16" x="271.5" y="15" fill="#ff0000"/><use href="#n" x="481.5" y="0" fill="#00ff00"/>
<use href="#r0234567" x="511.5" y="60" fill="#ffa500"/><use href="#r07" x="751.5" y="60" fill="#ffa500"/>
<rect class="ob" x="301.5" y="0" width="480" height="60"/>
<text class="p" x="31" y="-33"><tspan class="q">♩</tspan>=186</text><text class="p" x="511" y="-33"><tspan class="q">♩</tspan>=186</text>
<text class="m" x="31" y="-7">97</text><text class="m" x="271" y="-7">98</text><text class="m" x="511" y="-7">99</text><text class="m" x="751" y="-7">100</text>
<text class="a" x="270" y="77">216</text><text class="b" x="270" y="90">115956</text><text class="c" x="270" y="103">25.00%</text>
<text class="a" x="510" y="77">252</text><text class="b" x="510" y="90">118980</text><text class="c" x="510" y="103">14.04%</text>
<text class="a" x="750" y="77">252</text><text class="b" x="750" y="90">122004</text><text class="c" x="750" y="103">1.54%</text>
<text class="a" x="990" y="77">288</text><text class="b" x="990" y="90">124164</text><text class="c" x="990" y="103">0.00%</text>
</g>

<g id="row26" transform="translate(0,4068.5)">
<use href="#staff"/>
<use href="#n" x="451.5" y="0" fill="#00ff00"/><use href="#n" x="931.5" y="0" fill="#00ff00"/>
<text class="p" x="31" y="-33"><tspan class="q">♩</tspan>=186</text><text class="p" x="451" y="-33"><tspan class="q">♩</tspan>=183</text><text class="p" x="511" y="-33"><tspan class="q">♩</tspan>=187</text><text class="p" x="751" y="-33"><tspan class="q">♩</tspan>=186</text><text class="p" x="931" y="-33"><tspan class="q">♩</tspan>=186</text>
<text class="m" x="31" y="-7">101</text><text class="m" x="271" y="-7">102</text><text class="m" x="511" y="-7">103</text><text class="m" x="751" y="-7">104</text>
<text class="a" x="270" y="77">0</text><text class="b" x="270" y="90">124164</text><text class="c" x="270" y="103">0.00%</text>
<text class="a" x="510" y="77">36</text><text class="b" x="510" y="90">124380</text><text class="c" x="510" y="103">0.00%</text>
<text class="a" x="750" y="77">0</text><text class="b" x="750" y="90">124380</text><text class="c" x="750" y="103">0.00%</text>
<text class="a" x="990" y="77">36</text><text class="b" x="990" y="90">124596</text><text class="c" x="990" y="103">0.00%</text>
</g>

<g id="row27" transform="translate(0,4222.5)">
<use href="#staff"/>
<use href="#n" x="451.5" y="0" fill="#00ff00"/><use href="#n" x="931.5" y="0" fill="#00ff00"/>
<text class="p" x="511" y="-33"><tspan class="q">♩</tspan>=186</text>
<text class="m" x="31" y="-7">105</text><text class="m" x="271" y="-7">106</text><text class="m" x="511" y="-7">107</text><text class="m" x="751" y="-7">108</text>
<text class="a" x="270" y="77">0</text><text class="b" x="270" y="90">124596</text><text class="c" x="270" y="103">0.00%</text>
<text class="a" x="510" y="77">36</text><text class="b" x="510" y="90">124812</text><text class="c" x="510" y="103">0.00%</text>
<text class="a" x="750" y="77">0</text><text class="b" x="750" y="90">124812</text><text class="c" x="750" y="103">0.00%</text>
<text class="a" x="990" y="77">36</text><text class="b" x="990" y="90">125028</text><text class="c" x="990" y="103">0.00%</text>
</g>

<g id="row28" transform="translate(0,4376.5)">
<use href="#staff"/>
<use href="#n" x="451.5" y="0" fill="#00ff00"/><use href="#n" x="931.5" y="0" fill="#00ff00"/>
<text class="p" x="31" y="-33"><tspan class="q">♩</tspan>=186</text><text class="p" x="451" y="-33"><tspan class="q">♩</tspan>=186</text>
<text class="m" x="31" y="-7">109</text><text class="m" x="271" y="-7">110</text><text class="m" x="511" y="-7">111</text><text class="m" x="751" y="-7">112</text>
<text class="a" x="270" y="77">0</text><text class="b" x="270" y="90">125028</text><text class="c" x="270" y="103">0.00%</text>
<text class="a" x="510" y="77">36</text><text class="b" x="510" y="90">125244</text><text class="c" x="510" y="103">0.00%</text>
<text class="a" x="750" y="77">0</text><text class="b" x="750" y="90">125244</text><text class="c" x="750" y="103">0.00%</text>
<text class="a" x="990" y="77">36</text><text class="b" x="990" y="90">125460</text><text class="c" x="990" y="103">0.00%</text>
</g>

<g id="row29" transform="translate(0,4530.5)">
<use href="#staff"/>
<g fill="#0000ff"><use href="#n" x="31.5" y="45"/><use href="#s" x="91.5" y="45"/><use href="#s" x="151.5" y="45"/><use href="#s" x="181.5" y="45"/><use href="#s" x="211.5" y="45"/><use href="#s" x="241.5" y="45"/><use href="#r16" x="271.5" y="45"/></g>
<use href="#n" x="481.5" y="30" fill="#ffff00"/>
<use href="#r0245" x="511.5" y="15" fill="#ff0000"/><use href="#r16" x="751.5" y="15" fill="#ff0000"/><use href="#n" x="961.5" y="0" fill="#00ff00"/>
<rect class="og" x="91.5" y="0" width="150" height="60"/>
<text class="p" x="31" y="-33"><tspan class="q">♩</tspan>=186</text><text class="p" x="511" y="-33"><tspan class="q">♩</tspan>=186</text>
<text class="m" x="31" y="-7">113</text><text class="m" x="271" y="-7">114</text><text class="m" x="511" y="-7">115</text><text class="m" x="751" y="-7">116</text>
<text class="a" x="270" y="77">216</text><text class="b" x="270" y="90">126756</text><text class="c" x="270" y="103">25.00%</text>
<text class="a" x="510" y="77">252</text><text class="b" x="510" y="90">128268</text><text class="c" x="510" y="103">25.00%</text>
<text class="a" x="750" y="77">216</text><text class="b" x="750" y="90">129564</text><text class="c" x="750" y="103">25.00%</text>
<text class="a" x="990" y="77">252</text><text class="b" x="990" y="90">131076</text><text class="c" x="990" y="103">25.00%</text>
</g>

<g id="row30" transform="translate(0,4684.5)">
<use href="#staff"/>
<use href="#r0245" x="31.5" y="60" fill="#ffa500"/><use href="#r16" x="271.5" y="60" fill="#ffa500"/><use href="#n" x="481.5" y="30" fill="#ffff00"/>
<use href="#r0245" x="511.5" y="15" fill="#ff0000"/><use href="#r16" x="721.5" y="15" fill="#ff0000"/><use href="#n" x="931.5" y="30" fill="#ffff00"/><use href="#n" x="961.5" y="0" fill="#00ff00"/>
<rect class="ob" x="301.5" y="0" width="480" height="60"/>
<text class="p" x="31" y="-33"><tspan class="q">♩</tspan>=186</text><text class="p" x="511" y="-33"><tspan class="q">♩</tspan>=186</text>
<text class="m" x="31" y="-7">117</text><text class="m" x="271" y="-7">118</text><text class="m" x="511" y="-7">119</text><text class="m" x="751" y="-7">120</text>
<text class="a" x="270" y="77">216</text><text class="b" x="270" y="90">132372</text><text class="c" x="270" y="103">25.00%</text>
<text class="a" x="510" y="77">252</text><text class="b" x="510" y="90">135396</text><text class="c" x="510" y="103">14.04%</text>
<text class="a" x="750" y="77">216</text><text class="b" x="750" y="90">137988</text><text class="c" x="750" y="103">1.54%</text>
<text class="a" x="990" y="77">288</text><text class="b" x="990" y="90">140148</text><text class="c" x="990" y="103">0.00%</text>
</g>

<g id="row31" transform="translate(0,4838.5)">
<use href="#staff"/>
<use href="#r0245" x="31.5" y="45" fill="#0000ff"/><use href="#r16" x="271.5" y="45" fill="#0000ff"/><use href="#n" x="481.5" y="30" fill="#ffff00"/>
<use href="#s0245" x="511.5" y="15" fill="#ff0000"/><use href="#r16" x="751.5" y="15" fill="#ff0000"/><use href="#n" x="961.5" y="0" fill="#00ff00"/>
<rect class="og" x="511.5" y="0" width="210" height="60"/>
<rect class="ob" x="811.5" y="0" width="179" height="60"/>
<text class="p" x="31" y="-33"><tspan class="q">♩</tspan>=186</text><text class="p" x="511" y="-33"><tspan class="q">♩</tspan>=186</text>
<text class="m" x="31" y="-7">121</text><text class="m" x="271" y="-7">122</text><text class="m" x="511" y="-7">123</text><text class="m" x="751" y="-7">124</text>
<text class="a" x="270" y="77">216</text><text class="b" x="270" y="90">141444</text><text class="c" x="270" y="103">0.00%</text>
<text class="a" x="510" y="77">252</text><text class="b" x="510" y="90">142956</text><text class="c" x="510" y="103">0.00%</text>
<text class="a" x="750" y="77">216</text><text class="b" x="750" y="90">144252</text><text class="c" x="750" y="103">25.00%</text>
<text class="a" x="990" y="77">252</text><text class="b" x="990" y="90">147060</text><text class="c" x="990" y="103">15.60%</text>
</g>

<g id="row32" transform="translate(0,4992.5)">
<use href="#staff"/>
<use href="#r0234567" x="31.5" y="60" fill="#ffa500"/><use href="#r07" x="271.5" y="60" fill="#ffa500"/>
<rect class="ob" x="31.5" y="0" width="300" height="60"/>
<text class="p" x="31" y="-33"><tspan class="q">♩</tspan>=186</text><text class="p" x="511" y="-33"><tspan class="q">♩</tspan>=186</text>
<text class="m" x="31" y="-7">125</text><text class="m" x="271" y="-7">126</text><text class="m" x="511" y="-7">127</text><text class="m" x="751" y="-7">128</text>
<text class="a" x="270" y="77">252</text><text class="b" x="270" y="90">150084</text><text class="c" x="270" y="103">3.10%</text>
<text class="a" x="510" y="77">288</text><text class="b" x="510" y="90">152460</text><text class="c" x="510" y="103">0.00%</text>
<text class="a" x="750" y="77">0</text><text class="b" x="750" y="90">152460</text><text class="c" x="750" y="103">0.00%</text>
<text class="a" x="990" y="77">0</text><text class="b" x="990" y="90">152460</text><text class="c" x="990" y="103">0.00%</text>
</g>

<g id="row33" transform="translate(0,5146.5)">
<use href="#staff"/>
<use href="#pA" x="31.5"/><use href="#pB2" x="271.5"/><use href="#pA" x="511.5"/><use href="#pB3" x="751.5"/>
<text class="p" x="31" y="-33"><tspan class="q">♩</tspan>=186</text><text class="p" x="511" y="-33"><tspan class="q">♩</tspan>=186</text>
<text class="m" x="31" y="-7">129</text><text class="m" x="271" y="-7">130</text><text class="m" x="511" y="-7">131</text><text class="m" x="751" y="-7">132</text>
<text class="a" x="270" y="77">252</text><text class="b" x="270" y="90">153972</text><text class="c" x="270" y="103">0.00%</text>
<text class="a" x="510" y="77">144</text><text class="b" x="510" y="90">154836</text><text class="c" x="510" y="103">0.00%</text>
<text class="a" x="750" y="77">252</text><text class="b" x="750" y="90">156348</text><text class="c" x="750" y="103">0.00%</text>
<text class="a" x="990" y="77">120</text><text class="b" x="990" y="90">157068</text><text class="c" x="990" y="103">0.00%</text>
</g>

<g id="row34" transform="translate(0,5300.5)">
<use href="#staff"/>
<use href="#pA" x="31.5"/><use href="#pB4" x="271.5"/>
<use href="#n" x="781.5" y="0" fill="#00ff00"/><use href="#n" x="811.5" y="45" fill="#0000ff"/><use href="#n" x="841.5" y="45" fill="#0000ff"/><use href="#n" x="871.5" y="15" fill="#ff0000"/>
<text class="p" x="31" y="-33"><tspan class="q">♩</tspan>=186</text><text class="p" x="511" y="-33"><tspan class="q">♩</tspan>=186</text><text class="p" x="751" y="-33"><tspan class="q">♩</tspan>=187</text><text class="p" x="871" y="-33"><tspan class="q">♩</tspan>=186</text>
<text class="m" x="31" y="-7">133</text><text class="m" x="271" y="-7">134</text><text class="m" x="511" y="-7">135</text><text class="m" x="751" y="-7">136</text>
<text class="a" x="270" y="77">252</text><text class="b" x="270" y="90">158580</text><text class="c" x="270" y="103">0.00%</text>
<text class="a" x="510" y="77">156</text><text class="b" x="510" y="90">159516</text><text class="c" x="510" y="103">0.00%</text>
<text class="a" x="750" y="77">0</text><text class="b" x="750" y="90">159516</text><text class="c" x="750" y="103">0.00%</text>
<text class="a" x="990" y="77">144</text><text class="b" x="990" y="90">160380</text><text class="c" x="990" y="103">0.00%</text>
</g>
</svg>
